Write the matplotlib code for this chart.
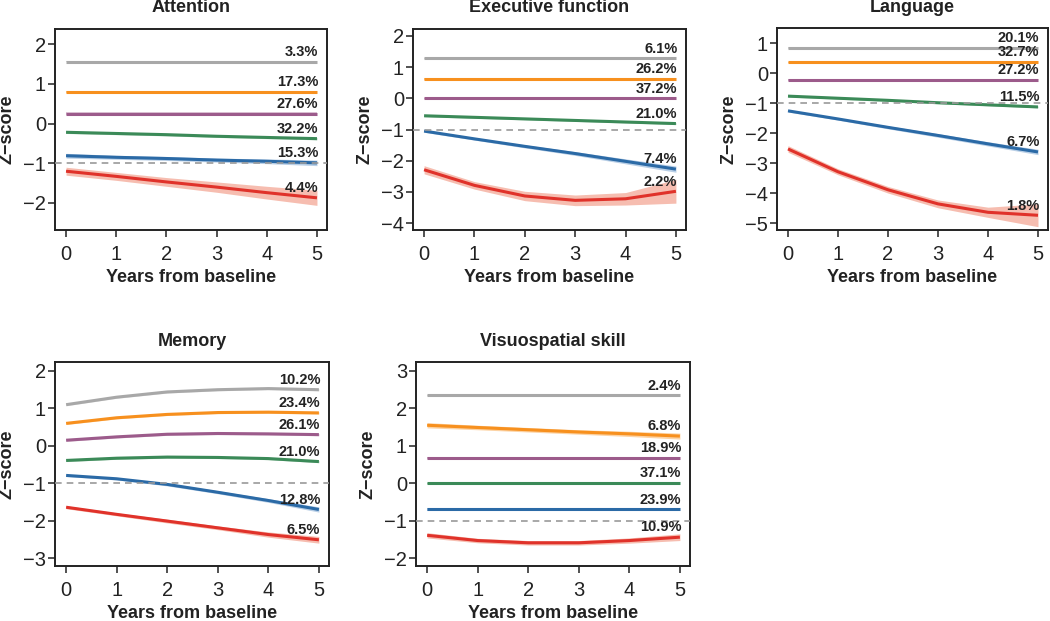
import matplotlib.pyplot as plt

plt.rcParams['font.family'] = ['Liberation Sans', 'DejaVu Sans']

years = [0, 1, 2, 3, 4, 5]
titles = ['Attention', 'Executive function', 'Language', 'Memory', 'Visuospatial skill']

# class order: gray, orange, purple, green, blue, red
colors = ['#a8a8a8', '#f7901e', '#9c5b8b', '#3b8a58', '#2b6aa6', '#e0322a']
bands = ['#d9d9d9', '#fcc98f', '#d2b3ca', '#a6cdb3', '#a8c3e0', '#f4ad9c']

# mean z-score trajectories per class
att_mean = [
    [1.56, 1.56, 1.56, 1.56, 1.56, 1.56],
    [0.79, 0.79, 0.79, 0.79, 0.79, 0.79],
    [0.25, 0.25, 0.25, 0.25, 0.25, 0.25],
    [-0.22, -0.25, -0.28, -0.32, -0.35, -0.38],
    [-0.81, -0.85, -0.88, -0.92, -0.95, -0.99],
    [-1.20, -1.33, -1.47, -1.60, -1.74, -1.87],
]
exe_mean = [
    [1.28, 1.28, 1.28, 1.28, 1.28, 1.28],
    [0.62, 0.62, 0.62, 0.62, 0.62, 0.62],
    [0.0, 0.0, 0.0, 0.0, 0.0, 0.0],
    [-0.56, -0.61, -0.66, -0.71, -0.76, -0.81],
    [-1.05, -1.30, -1.54, -1.77, -2.02, -2.27],
    [-2.29, -2.79, -3.13, -3.27, -3.22, -2.98],
]
lan_mean = [
    [0.83, 0.83, 0.83, 0.83, 0.83, 0.83],
    [0.36, 0.36, 0.36, 0.36, 0.36, 0.36],
    [-0.24, -0.24, -0.24, -0.24, -0.24, -0.24],
    [-0.77, -0.84, -0.91, -0.99, -1.06, -1.13],
    [-1.26, -1.53, -1.81, -2.08, -2.36, -2.63],
    [-2.53, -3.29, -3.89, -4.36, -4.64, -4.74],
]
mem_mean = [
    [1.10, 1.30, 1.44, 1.50, 1.53, 1.50],
    [0.60, 0.75, 0.84, 0.89, 0.90, 0.88],
    [0.15, 0.24, 0.31, 0.33, 0.32, 0.30],
    [-0.39, -0.33, -0.30, -0.31, -0.34, -0.42],
    [-0.79, -0.88, -1.03, -1.24, -1.46, -1.70],
    [-1.64, -1.83, -2.01, -2.19, -2.37, -2.51],
]
vis_mean = [
    [2.35, 2.35, 2.35, 2.35, 2.35, 2.35],
    [1.55, 1.49, 1.43, 1.37, 1.32, 1.26],
    [0.68, 0.68, 0.68, 0.68, 0.68, 0.68],
    [0.0, 0.0, 0.0, 0.0, 0.0, 0.0],
    [-0.70, -0.70, -0.70, -0.70, -0.70, -0.70],
    [-1.39, -1.53, -1.59, -1.59, -1.53, -1.44],
]

# half-width of confidence bands
att_ci = [
    [0.02] * 6, [0.02] * 6, [0.03] * 6, [0.03] * 6,
    [0.06, 0.05, 0.05, 0.05, 0.06, 0.07],
    [0.10, 0.10, 0.11, 0.13, 0.16, 0.19],
]
exe_ci = [
    [0.02] * 6, [0.02] * 6, [0.02] * 6, [0.03] * 6,
    [0.04, 0.04, 0.05, 0.06, 0.08, 0.10],
    [0.13, 0.12, 0.15, 0.17, 0.20, 0.38],
]
lan_ci = [
    [0.03] * 6, [0.02] * 6, [0.03] * 6, [0.03] * 6,
    [0.04, 0.04, 0.05, 0.06, 0.07, 0.09],
    [0.11, 0.10, 0.11, 0.13, 0.17, 0.38],
]
mem_ci = [
    [0.03] * 6, [0.03] * 6, [0.03] * 6, [0.03] * 6,
    [0.03, 0.03, 0.04, 0.04, 0.05, 0.07],
    [0.04, 0.04, 0.05, 0.05, 0.07, 0.09],
]
vis_ci = [
    [0.02] * 6,
    [0.07, 0.06, 0.06, 0.06, 0.07, 0.08],
    [0.03] * 6, [0.02] * 6, [0.03] * 6,
    [0.07, 0.06, 0.06, 0.06, 0.07, 0.09],
]

att_pct = ['3.3%', '17.3%', '27.6%', '32.2%', '15.3%', '4.4%']
exe_pct = ['6.1%', '26.2%', '37.2%', '21.0%', '7.4%', '2.2%']
lan_pct = ['20.1%', '32.7%', '27.2%', '11.5%', '6.7%', '1.8%']
mem_pct = ['10.2%', '23.4%', '26.1%', '21.0%', '12.8%', '6.5%']
vis_pct = ['2.4%', '6.8%', '18.9%', '37.1%', '23.9%', '10.9%']

means = [att_mean, exe_mean, lan_mean, mem_mean, vis_mean]
cis = [att_ci, exe_ci, lan_ci, mem_ci, vis_ci]
pcts = [att_pct, exe_pct, lan_pct, mem_pct, vis_pct]
ylims = [(-2.68, 2.38), (-4.22, 2.22), (-5.23, 1.5), (-3.21, 2.24), (-2.21, 3.24)]
yticks = [range(-2, 3), range(-4, 3), range(-5, 2), range(-3, 3), range(-2, 4)]

# axes boxes in pixels: x0, x1, y0(top), y1(bottom)
boxes = [(55, 327, 29, 230), (413, 686, 29, 230), (777, 1048, 28, 230),
         (55, 329, 362, 566), (416, 690, 362, 566)]

W, H = 1050, 621
fig = plt.figure(figsize=(W / 100, H / 100), dpi=100)

for k in range(5):
    x0, x1, y0, y1 = boxes[k]
    w, h = x1 - x0, y1 - y0
    ax = fig.add_axes([x0 / W, 1 - y1 / H, w / W, h / H])
    for i in range(6):
        m = means[k][i]
        c = cis[k][i]
        lo = [a - b for a, b in zip(m, c)]
        hi = [a + b for a, b in zip(m, c)]
        ax.fill_between(years, lo, hi, color=bands[i], alpha=0.8, lw=0, zorder=1)
        ax.plot(years, m, color=colors[i], lw=2.2, zorder=2, solid_capstyle='butt')
        ax.annotate(pcts[k][i], (5, m[-1]), xytext=(1, 2), textcoords='offset points',
                    ha='right', va='bottom', fontsize=10.5, fontweight='bold',
                    color='#222222', zorder=4)
    ax.axhline(-1, color='#9a9a9a', lw=1.2, ls=(0, (4, 3)), zorder=3)
    ax.set_xlim(-0.22, 5.2)
    ax.set_ylim(*ylims[k])
    ax.set_xticks(years)
    ax.set_yticks(list(yticks[k]))
    ax.set_yticklabels(['\u2212%d' % -v if v < 0 else str(v) for v in yticks[k]])
    ax.tick_params(direction='out', length=5, width=1.1, labelsize=14.5, color='#222222',
                   labelcolor='#222222')
    ax.tick_params(axis='x', pad=6)
    ax.tick_params(axis='y', pad=1.5)
    for s in ax.spines.values():
        s.set_linewidth(1.4)
        s.set_color('#222222')
    ax.set_title(titles[k], fontsize=13, fontweight='bold', y=1 + 21 / h, pad=0,
                 va='center', color='#222222')
    ax.set_xlabel('Years from baseline', fontsize=13, fontweight='bold', va='center',
                  color='#222222')
    ax.xaxis.set_label_coords(0.5, -47 / h)
    ax.set_ylabel('Z\u2212score', fontsize=13, fontweight='bold', va='center',
                  color='#222222')
    ax.yaxis.set_label_coords(-48 / w, 0.5)

fig.savefig('out.png', dpi=100)
